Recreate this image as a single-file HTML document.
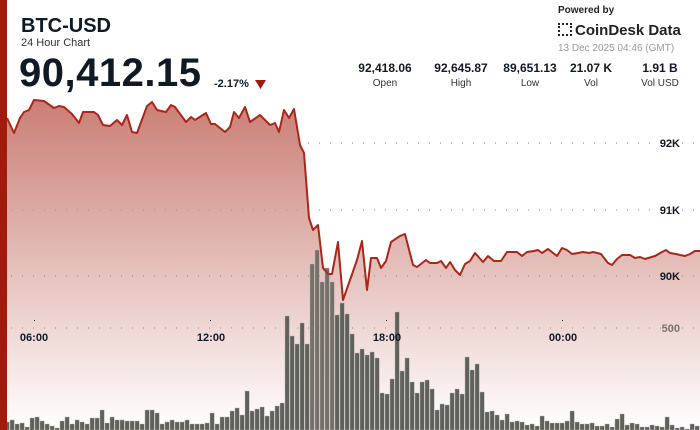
<!DOCTYPE html>
<html><head><meta charset="utf-8"><style>
body{margin:0;width:700px;height:430px;overflow:hidden;background:#fff;font-family:"Liberation Sans",sans-serif;position:relative}
.t{position:absolute;white-space:nowrap;color:#0f1a26}
</style></head><body>
<svg width="700" height="430" style="position:absolute;left:0;top:0">
<defs><linearGradient id="g" x1="0" y1="95" x2="0" y2="430" gradientUnits="userSpaceOnUse">
<stop offset="0" stop-color="#c0655a" stop-opacity="0.85"/><stop offset="1" stop-color="#c0655a" stop-opacity="0"/></linearGradient></defs>
<path id="area" fill="url(#g)"/>
<g id="grid" stroke="#999" stroke-width="1.2" stroke-dasharray="1 10"></g>
<g id="bars"></g>
<path id="line" fill="none" stroke="#a8271b" stroke-width="2" stroke-linejoin="round"/>
<rect x="0" y="0" width="7" height="430" fill="#a01a0e"/>
<g font-family="Liberation Sans" font-weight="bold" font-size="11" fill="#0f1a26" text-anchor="end">
<text x="680" y="147">92K</text><text x="680" y="214">91K</text><text x="680" y="280">90K</text>
<text x="680" y="332" fill="#7a716c">500</text></g>
<g font-family="Liberation Sans" font-weight="bold" font-size="11" fill="#0f1a26" text-anchor="middle">
<text x="34" y="341">06:00</text><text x="211" y="341">12:00</text><text x="387" y="341">18:00</text><text x="563" y="341">00:00</text></g>
<g fill="#222"><rect x="34" y="320" width="1" height="1"/><rect x="210" y="320" width="1" height="1"/><rect x="386" y="320" width="1" height="1"/><rect x="562" y="320" width="1" height="1"/></g>
<path d="M255 80 L266 80 L260.5 89 Z" fill="#a01a0e"/>
</svg>
<div class="t" style="left:21px;top:15px;font-size:20px;font-weight:bold">BTC-USD</div>
<div class="t" style="left:21px;top:37px;font-size:11px;color:#333">24 Hour Chart</div>
<div class="t" style="left:19px;top:51px;font-size:40px;font-weight:bold;letter-spacing:0.5px">90,412.15</div>
<div class="t" style="left:214px;top:78px;font-size:11px;font-weight:bold">-2.17%</div>
<div class="t" style="left:558px;top:5px;font-size:10px;font-weight:bold;color:#222">Powered by</div>
<div class="t" style="left:558px;top:22px;font-size:15px;font-weight:bold;color:#222"><span style="display:inline-block;width:14px;height:13px;border:2px dotted #222;box-sizing:border-box;margin-right:3px;vertical-align:-1px"></span>CoinDesk Data</div>
<div class="t" style="left:558px;top:43px;font-size:10px;color:#999">13 Dec 2025 04:46 (GMT)</div>
<div id="stats"></div>
<script>
var st=[["92,418.06","Open",385],["92,645.87","High",461],["89,651.13","Low",530],["21.07 K","Vol",591],["1.91 B","Vol USD",660]];
var h="";st.forEach(function(s){h+='<div class="t" style="left:'+(s[2]-40)+'px;width:80px;text-align:center;top:61px;font-size:12px;font-weight:bold">'+s[0]+'</div><div class="t" style="left:'+(s[2]-40)+'px;width:80px;text-align:center;top:78px;font-size:10px;color:#333">'+s[1]+'</div>';});
document.getElementById("stats").innerHTML=h;
var ns="http://www.w3.org/2000/svg";
var gr=document.getElementById("grid");
[143,210,276,328].forEach(function(y){var l=document.createElementNS(ns,"line");l.setAttribute("x1",11);l.setAttribute("x2",700);l.setAttribute("y1",y);l.setAttribute("y2",y);if(y==328)l.setAttribute("stroke-dasharray","1 10");gr.appendChild(l);});
var v=[422,420,424,423,427,418,417,421,424,426,428,421,417,424,420,422,424,418,418,410,423,417,420,420,421,421,421,424,410,410,413,424,422,420,422,422,420,424,424,424,423,413,424,417,417,411,408,415,391,411,409,407,416,411,406,403,
316,336,344,323,344,264,250,282,268,282,315,303,314,334,
353,349,355,352,358,393,394,379,312,371,358,382,393,382,380,389,410,404,405,393,389,394,357,370,364,392,412,411,415,420,414,422,421,422,425,424,426,416,421,423,423,423,421,411,422,424,424,423,426,426,424,427,419,414,425,423,424,427,427,425,426,427,417,425,428,427,429,424,426];
var b=document.getElementById("bars");
v.forEach(function(t,i){var r=document.createElementNS(ns,"rect");r.setAttribute("x",5+5*i);r.setAttribute("y",t);r.setAttribute("width",4.3);r.setAttribute("height",430-t);r.setAttribute("fill",t<300?"#75706a":"#5f625b");r.setAttribute("stroke","#b8b3ad");r.setAttribute("stroke-width","0.4");b.appendChild(r);});
var p=[[7,118],[14,133],[20,118],[24,112],[29,110],[34,100],[44,101],[54,108],[59,106],[64,107],[72,114],[79,123],[83,112],[94,112],[98,115],[103,125],[110,126],[117,120],[122,125],[127,115],[132,132],[137,133],[147,106],[152,102],[157,110],[166,112],[171,105],[175,107],[186,122],[191,117],[195,120],[206,113],[211,124],[215,124],[225,132],[230,127],[234,112],[239,118],[245,107],[250,122],[260,115],[267,122],[270,125],[275,123],[279,132],[284,110],[289,118],[294,109],[300,145],[304,153],[309,218],[313,230],[318,225],[323,268],[328,274],[332,274],[338,242],[343,300],[350,280],[357,260],[362,241],[367,290],[371,258],[377,258],[381,268],[386,261],[391,242],[400,236],[405,234],[413,265],[417,267],[426,260],[430,263],[437,263],[441,261],[446,268],[450,262],[455,270],[460,275],[465,264],[470,261],[475,253],[483,262],[488,256],[494,261],[501,261],[507,252],[517,252],[522,256],[527,252],[534,251],[538,250],[542,253],[548,249],[557,256],[562,248],[567,250],[572,254],[578,253],[583,252],[589,253],[593,252],[601,254],[608,263],[612,265],[617,259],[622,255],[630,255],[635,258],[640,257],[645,259],[655,256],[662,252],[666,250],[670,253],[676,254],[680,255],[685,256],[690,254],[695,251],[700,251]];
var d="M"+p.map(function(q){return q[0]+" "+q[1]}).join(" L");
document.getElementById("line").setAttribute("d",d);
document.getElementById("area").setAttribute("d",d+" L700 430 L7 430 Z");
</script>
</body></html>
